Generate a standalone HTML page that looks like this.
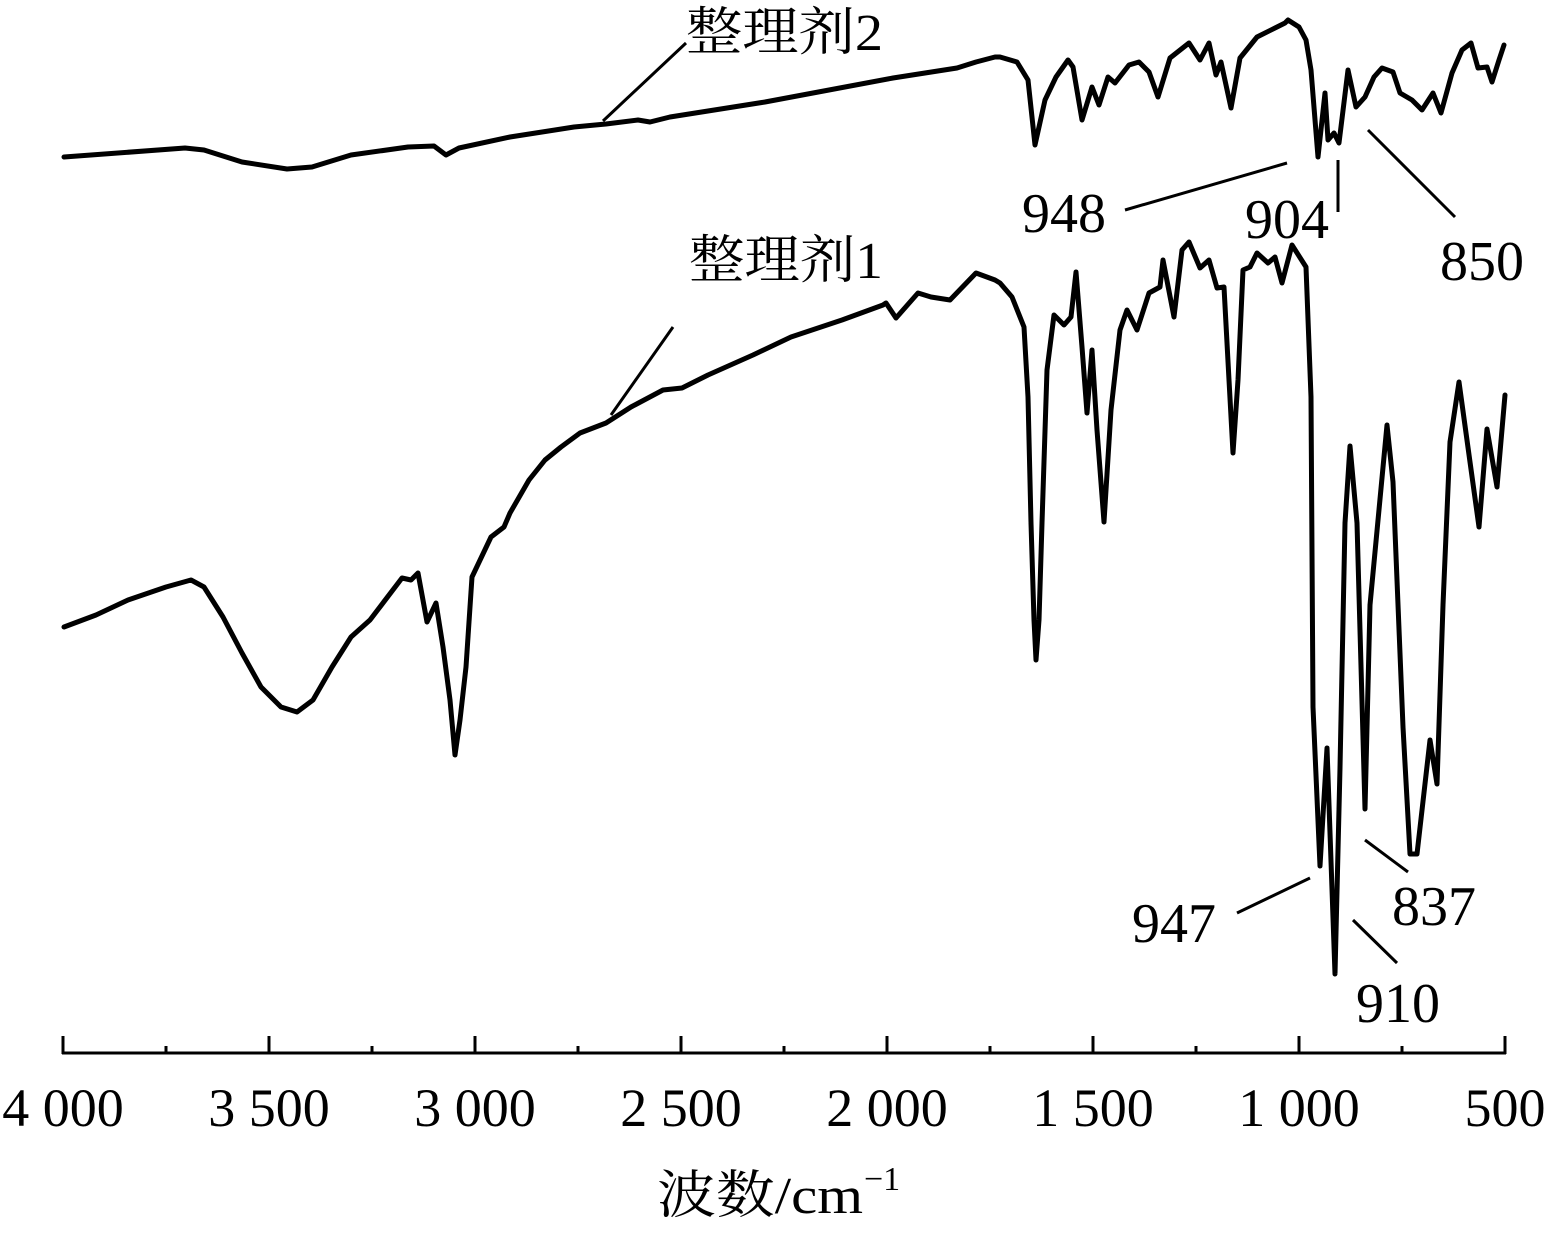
<!DOCTYPE html>
<html><head><meta charset="utf-8"><style>
html,body{margin:0;padding:0;background:#fff;}
svg{display:block;}
text{font-family:"Liberation Serif","Noto Serif CJK SC",serif;fill:#000;}
</style></head><body>
<svg width="1545" height="1234" viewBox="0 0 1545 1234" xmlns="http://www.w3.org/2000/svg">
<g fill="none" stroke="#000" stroke-linejoin="round" stroke-linecap="round">
<!-- curve 2 -->
<polyline stroke-width="5" points="64,157 185,148 204,150 242,162 287,169 312,167 351,155 408,147 434,146 446,155 459,148 510,137 574,127 606,124 638,120 650,122 670,117 765,102 893,78 957,68 976,62 995,57 1000,57 1017,62 1028,80 1035,145 1045,100 1056,77 1068,60 1073,67 1082,120 1092,87 1099,105 1108,77 1115,83 1129,65 1139,62 1149,72 1158,97 1170,58 1189,43 1200,60 1209,43 1216,75 1221,62 1231,108 1240,58 1257,37 1275,28 1285,23 1288,20 1299,27 1306,40 1311,70 1318,157 1325,93 1328,140 1334,133 1339,143 1348,70 1356,107 1365,97 1374,77 1382,68 1393,72 1400,93 1412,100 1422,110 1433,93 1441,113 1452,73 1462,50 1471,43 1478,68 1487,67 1492,82 1499,60 1504,45"/>
<!-- curve 1 -->
<polyline stroke-width="5" points="64,627 96,615 128,600 166,587 191,580 204,587 223,617 242,653 261,687 281,707 297,712 313,700 332,667 351,637 370,620 402,578 411,580 418,573 427,622 436,603 443,647 450,700 455,755 460,720 466,667 472,577 491,537 504,527 510,513 529,480 545,460 561,447 580,433 606,423 631,407 663,390 682,388 708,375 753,355 791,337 842,320 883,305 886,303 896,318 918,293 931,297 950,300 976,273 995,280 1000,283 1012,297 1024,327 1028,397 1031,523 1034,620 1036,660 1039,620 1042,523 1047,370 1054,315 1064,325 1071,317 1076,272 1082,347 1087,413 1092,350 1097,430 1104,522 1111,410 1120,330 1127,310 1137,330 1149,293 1160,287 1163,260 1174,317 1182,250 1189,242 1200,268 1209,260 1217,288 1224,287 1229,380 1233,453 1238,380 1243,270 1250,267 1257,253 1268,263 1275,257 1282,283 1292,245 1306,267 1311,397 1313,707 1320,866 1327,748 1335,974 1340,768 1345,523 1350,446 1357,523 1365,809 1370,605 1387,425 1393,482 1403,727 1410,854 1417,854 1430,740 1437,784 1443,605 1450,442 1459,382 1470,462 1479,527 1487,429 1497,487 1505,395"/>
<!-- annotation lines -->
<g stroke-width="3" stroke-linecap="butt">
<line x1="603" y1="121" x2="686" y2="43"/>
<line x1="611" y1="415" x2="673" y2="327"/>
<line x1="1125" y1="210" x2="1287" y2="163"/>
<line x1="1338" y1="160" x2="1338" y2="212"/>
<line x1="1368" y1="130" x2="1455" y2="217"/>
<line x1="1237" y1="913" x2="1310" y2="878"/>
<line x1="1353" y1="920" x2="1397" y2="963"/>
<line x1="1365" y1="840" x2="1408" y2="872"/>
</g>
<!-- axis -->
<g stroke-width="3" stroke-linecap="butt">
<line x1="62" y1="1053" x2="1506" y2="1053"/>
<line x1="63" y1="1036" x2="63" y2="1054"/>
<line x1="269" y1="1036" x2="269" y2="1053"/>
<line x1="475" y1="1036" x2="475" y2="1053"/>
<line x1="681" y1="1036" x2="681" y2="1053"/>
<line x1="887" y1="1036" x2="887" y2="1053"/>
<line x1="1093" y1="1036" x2="1093" y2="1053"/>
<line x1="1299" y1="1036" x2="1299" y2="1053"/>
<line x1="1505" y1="1036" x2="1505" y2="1054"/>
<line x1="166" y1="1046" x2="166" y2="1053"/>
<line x1="372" y1="1046" x2="372" y2="1053"/>
<line x1="578" y1="1046" x2="578" y2="1053"/>
<line x1="784" y1="1046" x2="784" y2="1053"/>
<line x1="990" y1="1046" x2="990" y2="1053"/>
<line x1="1196" y1="1046" x2="1196" y2="1053"/>
<line x1="1402" y1="1046" x2="1402" y2="1053"/>
</g>
</g>
<g font-size="54" text-anchor="middle">
<text x="63" y="1126">4 000</text>
<text x="269" y="1126">3 500</text>
<text x="475" y="1126">3 000</text>
<text x="681" y="1126">2 500</text>
<text x="887" y="1126">2 000</text>
<text x="1093" y="1126">1 500</text>
<text x="1299" y="1126">1 000</text>
<text x="1505" y="1126">500</text>
</g>
<g font-size="56">
<text x="1022" y="232">948</text>
<text x="1245" y="238">904</text>
<text x="1440" y="280">850</text>
<text x="1132" y="942">947</text>
<text x="1392" y="925">837</text>
<text x="1356" y="1022">910</text>
</g>
<g font-size="52">
<text x="686" y="50" textLength="197" lengthAdjust="spacingAndGlyphs">整理剂2</text>
<text x="689" y="278" textLength="194" lengthAdjust="spacingAndGlyphs">整理剂1</text>
<text x="657" y="1213" textLength="206" lengthAdjust="spacingAndGlyphs">波数/cm</text>
<text x="864" y="1190" font-size="34">−1</text>
</g>
</svg>
</body></html>
